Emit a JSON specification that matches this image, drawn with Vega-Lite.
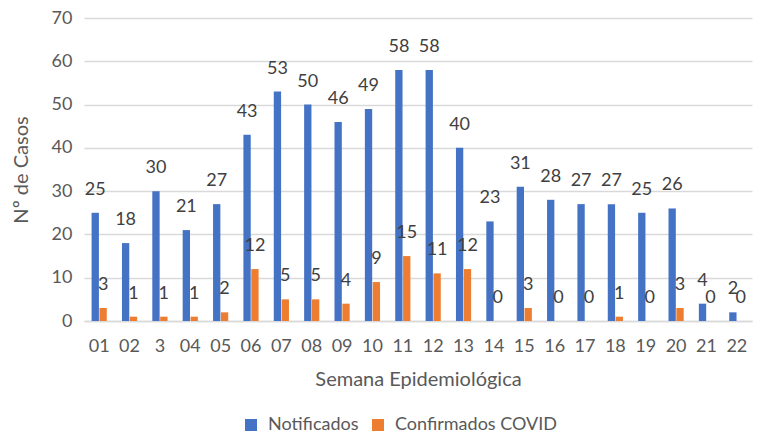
{
  "$schema": "https://vega.github.io/schema/vega-lite/v6.json",
  "width": 668,
  "height": 303,
  "autosize": "none",
  "padding": {"left": 84, "top": 18, "right": 11, "bottom": 115},
  "background": "white",
  "config": {
    "font": "Lato",
    "view": {"stroke": null}
  },
  "data": {
    "values": [
      {"semana": "01", "serie": "Notificados", "valor": 25},
      {"semana": "02", "serie": "Notificados", "valor": 18},
      {"semana": "3", "serie": "Notificados", "valor": 30},
      {"semana": "04", "serie": "Notificados", "valor": 21},
      {"semana": "05", "serie": "Notificados", "valor": 27},
      {"semana": "06", "serie": "Notificados", "valor": 43},
      {"semana": "07", "serie": "Notificados", "valor": 53},
      {"semana": "08", "serie": "Notificados", "valor": 50},
      {"semana": "09", "serie": "Notificados", "valor": 46},
      {"semana": "10", "serie": "Notificados", "valor": 49},
      {"semana": "11", "serie": "Notificados", "valor": 58},
      {"semana": "12", "serie": "Notificados", "valor": 58},
      {"semana": "13", "serie": "Notificados", "valor": 40},
      {"semana": "14", "serie": "Notificados", "valor": 23},
      {"semana": "15", "serie": "Notificados", "valor": 31},
      {"semana": "16", "serie": "Notificados", "valor": 28},
      {"semana": "17", "serie": "Notificados", "valor": 27},
      {"semana": "18", "serie": "Notificados", "valor": 27},
      {"semana": "19", "serie": "Notificados", "valor": 25},
      {"semana": "20", "serie": "Notificados", "valor": 26},
      {"semana": "21", "serie": "Notificados", "valor": 4},
      {"semana": "22", "serie": "Notificados", "valor": 2},
      {"semana": "01", "serie": "Confirmados COVID", "valor": 3},
      {"semana": "02", "serie": "Confirmados COVID", "valor": 1},
      {"semana": "3", "serie": "Confirmados COVID", "valor": 1},
      {"semana": "04", "serie": "Confirmados COVID", "valor": 1},
      {"semana": "05", "serie": "Confirmados COVID", "valor": 2},
      {"semana": "06", "serie": "Confirmados COVID", "valor": 12},
      {"semana": "07", "serie": "Confirmados COVID", "valor": 5},
      {"semana": "08", "serie": "Confirmados COVID", "valor": 5},
      {"semana": "09", "serie": "Confirmados COVID", "valor": 4},
      {"semana": "10", "serie": "Confirmados COVID", "valor": 9},
      {"semana": "11", "serie": "Confirmados COVID", "valor": 15},
      {"semana": "12", "serie": "Confirmados COVID", "valor": 11},
      {"semana": "13", "serie": "Confirmados COVID", "valor": 12},
      {"semana": "14", "serie": "Confirmados COVID", "valor": 0},
      {"semana": "15", "serie": "Confirmados COVID", "valor": 3},
      {"semana": "16", "serie": "Confirmados COVID", "valor": 0},
      {"semana": "17", "serie": "Confirmados COVID", "valor": 0},
      {"semana": "18", "serie": "Confirmados COVID", "valor": 1},
      {"semana": "19", "serie": "Confirmados COVID", "valor": 0},
      {"semana": "20", "serie": "Confirmados COVID", "valor": 3},
      {"semana": "21", "serie": "Confirmados COVID", "valor": 0},
      {"semana": "22", "serie": "Confirmados COVID", "valor": 0}
    ]
  },
  "encoding": {
    "x": {
      "field": "semana",
      "type": "nominal",
      "sort": null,
      "scale": {"paddingInner": 0.5, "paddingOuter": 0.25},
      "axis": {
        "title": "Semana Epidemiológica",
        "titleFontSize": 20,
        "titleFontWeight": "normal",
        "titleColor": "#595959",
        "titlePadding": 14,
        "labelAngle": 0,
        "labelFontSize": 18,
        "labelColor": "#595959",
        "labelPadding": 16,
        "ticks": false,
        "domainColor": "#d9d9d9",
        "domainWidth": 1.5
      }
    },
    "xOffset": {
      "field": "serie",
      "type": "nominal",
      "sort": ["Notificados", "Confirmados COVID"],
      "scale": {"paddingInner": 0.07}
    },
    "y": {
      "field": "valor",
      "type": "quantitative",
      "scale": {"domain": [0, 70]},
      "axis": {
        "title": "Nº de Casos",
        "titleFontSize": 20,
        "titleFontWeight": "normal",
        "titleColor": "#595959",
        "titlePadding": 20,
        "values": [0, 10, 20, 30, 40, 50, 60, 70],
        "labelFontSize": 18,
        "labelColor": "#595959",
        "labelPadding": 12,
        "ticks": false,
        "domain": false,
        "gridColor": "#d9d9d9",
        "gridWidth": 1.5
      }
    }
  },
  "layer": [
    {
      "mark": {"type": "bar"},
      "encoding": {
        "color": {
          "field": "serie",
          "type": "nominal",
          "sort": ["Notificados", "Confirmados COVID"],
          "scale": {"domain": ["Notificados", "Confirmados COVID"], "range": ["#4472C4", "#ED7D31"]},
          "legend": {
            "title": null,
            "orient": "none",
            "direction": "horizontal",
            "legendX": 158,
            "legendY": 398,
            "symbolType": "square",
            "symbolSize": 144,
            "symbolStrokeWidth": 0,
            "labelFontSize": 18,
            "labelLimit": 400,
            "labelColor": "#595959",
            "columnPadding": 10,
            "labelOffset": 8
          }
        }
      }
    },
    {
      "mark": {"type": "text", "baseline": "middle", "dy": -23, "fontSize": 18, "color": "#404040"},
      "encoding": {
        "text": {"field": "valor", "type": "quantitative"}
      }
    }
  ]
}
